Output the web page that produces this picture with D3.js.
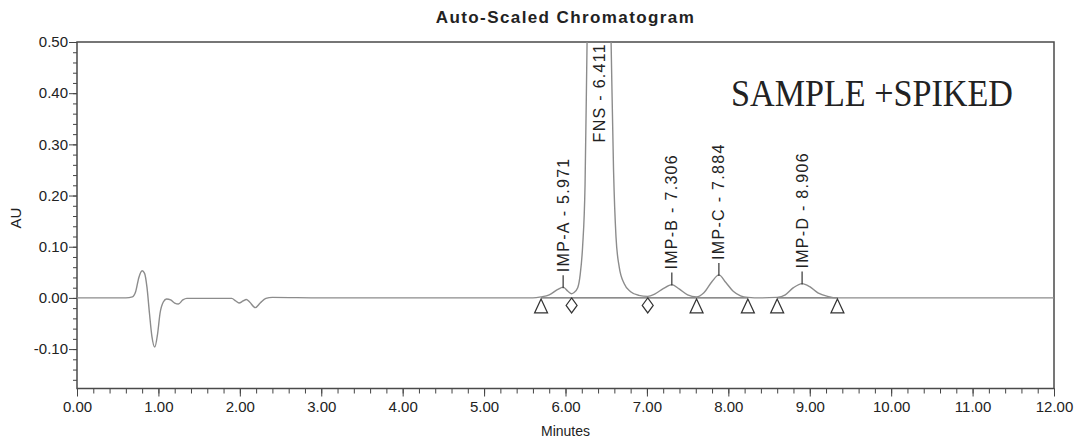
<!DOCTYPE html>
<html>
<head>
<meta charset="utf-8">
<title>Auto-Scaled Chromatogram</title>
<script src="https://d3js.org/d3.v7.min.js"></script>
<style>
  body { margin: 0; background: #fff; }
  text { font-family: "Liberation Sans", Arial, sans-serif; fill: #222; }
</style>
</head>
<body>
<script>
// detector trace (minutes / AU)
var traceTime = [0.00, 0.60, 0.68, 0.72, 0.76, 0.80, 0.83, 0.86, 0.89, 0.92, 0.955, 0.99, 1.02, 1.06, 1.10, 1.15, 1.20, 1.245, 1.30, 1.35, 1.50,
  1.90, 1.95, 1.99, 2.04, 2.08, 2.12, 2.19, 2.25, 2.32, 2.40, 3.00, 5.60, 5.70, 5.80, 5.90, 5.971, 6.03, 6.075, 6.10, 6.15, 6.18, 6.21, 6.24, 6.265,
  6.30, 6.411, 6.52, 6.56, 6.59, 6.62, 6.66, 6.72, 6.80, 6.90, 7.01, 7.10, 7.20, 7.306, 7.40, 7.50, 7.61, 7.70, 7.80, 7.884, 7.97,
  8.06, 8.15, 8.24, 8.40, 8.60, 8.70, 8.80, 8.906, 9.00, 9.10, 9.22, 9.34, 10.50, 12.00];
var traceAU = [0.000, 0.000, 0.002, 0.012, 0.040, 0.053, 0.048, 0.020, -0.030, -0.075, -0.096, -0.070, -0.030, -0.008, -0.002, -0.004, -0.010, -0.012, -0.004, -0.001, -0.001,
  -0.001, -0.006, -0.010, -0.006, -0.003, -0.008, -0.019, -0.010, -0.001, 0.001, 0.000, 0.000, 0.002, 0.006, 0.016, 0.021, 0.013, 0.008, 0.010, 0.020, 0.045, 0.100, 0.220, 0.500,
  0.850, 1.350, 0.850, 0.500, 0.250, 0.120, 0.060, 0.028, 0.012, 0.005, 0.003, 0.008, 0.018, 0.026, 0.017, 0.006, 0.002, 0.010, 0.032, 0.045, 0.030,
  0.013, 0.004, 0.001, 0.000, 0.001, 0.006, 0.020, 0.028, 0.022, 0.010, 0.003, 0.000, 0.000, 0.000];

// named peaks
var peakNames = ["IMP-A", "FNS", "IMP-B", "IMP-C", "IMP-D"];
var peakTimes = [5.971, 6.411, 7.306, 7.884, 8.906];
var peakAU = [0.021, 1.350, 0.026, 0.045, 0.028];

// integration marks
var triangleTimes = [5.70, 7.61, 8.24, 8.60, 9.34];
var diamondTimes = [6.075, 7.01];
var baseStart = [5.70, 6.075, 7.01, 7.61, 8.60];
var baseEnd = [6.075, 7.01, 7.61, 8.24, 9.34];

var xMajor = [0, 1, 2, 3, 4, 5, 6, 7, 8, 9, 10, 11, 12];
var yMajor = [-0.10, 0.00, 0.10, 0.20, 0.30, 0.40, 0.50];

var W = 1078, H = 443;
var mLeft = 77, mRight = 1054, mTop = 42, mBottom = 388.5;

var svg = d3.select("body").append("svg").attr("width", W).attr("height", H);

var x = d3.scaleLinear().domain([0, 12]).range([mLeft, mRight]);
var y = d3.scaleLinear().domain([-0.177, 0.50]).range([mBottom, mTop]);

svg.append("defs").append("clipPath").attr("id", "plot")
  .append("rect").attr("x", mLeft).attr("y", mTop).attr("width", mRight - mLeft).attr("height", mBottom - mTop);

// title
svg.append("text").attr("x", (mLeft + mRight) / 2).attr("y", 23)
  .attr("text-anchor", "middle").style("font-weight", "bold").style("font-size", "17px")
  .style("letter-spacing", "1.4px").text("Auto-Scaled Chromatogram");

// minor ticks
var xMinor = d3.range(0, 12.001, 0.2);
var yMinor = d3.range(-0.16, 0.501, 0.02);

svg.append("g").attr("transform", "translate(0," + mBottom + ")")
  .call(d3.axisBottom(x).tickValues(xMinor).tickSize(5).tickFormat(""))
  .call(g => g.select(".domain").remove())
  .selectAll("line").attr("stroke", "#444");
svg.append("g").attr("transform", "translate(" + mLeft + ",0)")
  .call(d3.axisLeft(y).tickValues(yMinor).tickSize(4).tickFormat(""))
  .call(g => g.select(".domain").remove())
  .selectAll("line").attr("stroke", "#444");

// major ticks + labels
var xa = svg.append("g").attr("transform", "translate(0," + mBottom + ")")
  .call(d3.axisBottom(x).tickValues(xMajor).tickSize(8).tickFormat(d => d.toFixed(2)));
xa.select(".domain").remove();
xa.selectAll("line").attr("stroke", "#444");
xa.selectAll("text").attr("y", 13).style("font-size", "15px").attr("fill", "#333").style("font-family", "Liberation Sans, Arial");

var ya = svg.append("g").attr("transform", "translate(" + mLeft + ",0)")
  .call(d3.axisLeft(y).tickValues(yMajor).tickSize(8).tickFormat(d => d.toFixed(2)));
ya.select(".domain").remove();
ya.selectAll("line").attr("stroke", "#444");
ya.selectAll("text").attr("x", -9).style("font-size", "15px").attr("fill", "#333").style("font-family", "Liberation Sans, Arial");

// axis titles
svg.append("text").attr("x", (mLeft + mRight) / 2).attr("y", 436)
  .attr("text-anchor", "middle").style("font-size", "14px").text("Minutes");
svg.append("text").attr("transform", "translate(21,218) rotate(-90)")
  .attr("text-anchor", "middle").style("font-size", "15px").text("AU");

// frame
svg.append("rect").attr("x", mLeft).attr("y", mTop).attr("width", mRight - mLeft).attr("height", mBottom - mTop)
  .attr("fill", "none").attr("stroke", "#4a4a4a").attr("stroke-width", 1.5);

var plot = svg.append("g").attr("clip-path", "url(#plot)");

// integration baselines
plot.selectAll(".base").data(baseStart).enter().append("line")
  .attr("x1", d => x(d)).attr("x2", (d, i) => x(baseEnd[i]))
  .attr("y1", y(0)).attr("y2", y(0))
  .attr("stroke", "#666").attr("stroke-width", 1.2);

// trace
var pts = traceTime.map((t, i) => [t, traceAU[i]]);
plot.append("path").datum(pts)
  .attr("d", d3.line().x(d => x(d[0])).y(d => y(d[1])).curve(d3.curveMonotoneX))
  .attr("fill", "none").attr("stroke", "#8c8c8c").attr("stroke-width", 1.4);

// peak labels
peakNames.forEach(function (name, i) {
  var px = x(peakTimes[i]);
  var label = name + " - " + peakTimes[i].toFixed(3);
  if (peakAU[i] <= 0.5) {
    var py = y(peakAU[i]);
    svg.append("line").attr("x1", px).attr("x2", px).attr("y1", py + 1).attr("y2", py - 12)
      .attr("stroke", "#333").attr("stroke-width", 1.2);
    svg.append("text").attr("transform", "translate(" + px + "," + (py - 15) + ") rotate(-90)")
      .attr("dy", "0.35em").style("font-size", "16px").style("letter-spacing", "1.3px").text(label);
  } else {
    svg.append("text").attr("transform", "translate(" + px + "," + (mTop + 1) + ") rotate(-90)")
      .attr("text-anchor", "end").attr("dy", "0.35em").style("font-size", "16px").style("letter-spacing", "1.3px").text(label);
  }
});

// markers
svg.selectAll(".tri").data(triangleTimes).enter().append("path")
  .attr("d", d => "M" + x(d) + "," + (y(0) + 1) + "L" + (x(d) + 6.5) + "," + (y(0) + 15) + "L" + (x(d) - 6.5) + "," + (y(0) + 15) + "Z")
  .attr("fill", "#fff").attr("stroke", "#333").attr("stroke-width", 1.2);
svg.selectAll(".dia").data(diamondTimes).enter().append("path")
  .attr("d", d => "M" + x(d) + "," + (y(0) + 0) + "L" + (x(d) + 5.5) + "," + (y(0) + 7.5) + "L" + x(d) + "," + (y(0) + 15) + "L" + (x(d) - 5.5) + "," + (y(0) + 7.5) + "Z")
  .attr("fill", "#fff").attr("stroke", "#333").attr("stroke-width", 1.2);

// annotation
svg.append("text").attr("x", 731).attr("y", 106)
  .attr("textLength", 282).attr("lengthAdjust", "spacingAndGlyphs")
  .style("font-family", "Liberation Serif, Times New Roman, serif").style("font-size", "38px").attr("fill", "#111")
  .text("SAMPLE +SPIKED");
</script>
</body>
</html>
